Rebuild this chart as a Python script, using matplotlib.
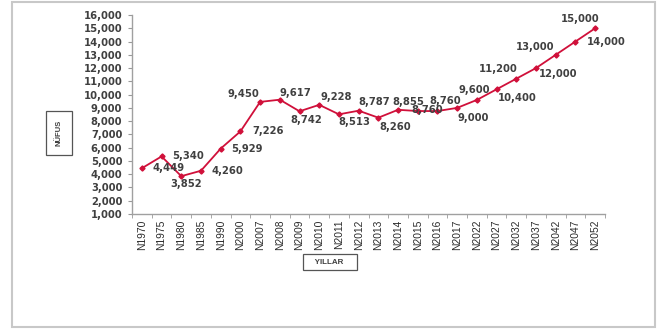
import numpy as np
import matplotlib.pyplot as plt
from matplotlib.patches import Rectangle

# Veriler (yillar ve nufus)
yillar = ["N1970", "N1975", "N1980", "N1985", "N1990", "N2000", "N2007", "N2008",
          "N2009", "N2010", "N2011", "N2012", "N2013", "N2014", "N2015", "N2016",
          "N2017", "N2022", "N2027", "N2032", "N2037", "N2042", "N2047", "N2052"]
nufus = [4449, 5340, 3852, 4260, 5929, 7226, 9450, 9617,
         8742, 9228, 8513, 8787, 8260, 8855, 8760, 8760,
         9000, 9600, 10400, 11200, 12000, 13000, 14000, 15000]
y_ticks = list(range(1000, 16001, 1000))

# Etiket konumlari (piksel kaydirma, hizalama)
etiket_kaydirma = [(11, 0, "left"), (11, 0, "left"), (5, -8, "center"), (11, 0, "left"),
                   (11, 0, "left"), (12, 0, "left"), (-1, 8, "right"), (0, 7, "left"),
                   (7, -9, "center"), (1, 8, "left"), (-1, -8, "left"), (0, 9, "left"),
                   (1, -9, "left"), (-6, 8, "left"), (9, 1, "center"), (8, 10, "center"),
                   (0, -10, "left"), (13, 10, "right"), (1, -9, "left"), (1, 10, "right"),
                   (3, -6, "left"), (-1, 8, "right"), (11, 0, "left"), (4, 9, "right")]

koyu = "#404040"
kirmizi = "#d0103a"
yazi = ["DejaVu Sans"]
dar_yazi = ["Liberation Sans Narrow", "Liberation Sans", "DejaVu Sans"]

fig = plt.figure(figsize=(6.59, 3.29), dpi=100)
fig.patch.set_facecolor("white")
fig.patches.append(Rectangle((12 / 659, 2 / 329), 643 / 659, 325 / 329,
                             transform=fig.transFigure, fill=False,
                             ec="#c8c8c8", lw=1.5))

ax = fig.add_axes([132 / 659, 1 - 214 / 329, 473 / 659, 199 / 329])
x = np.arange(len(yillar))
ax.plot(x, nufus, color=kirmizi, lw=1.3, marker="D", markersize=2.6, zorder=3)

px = 0.72  # piksel -> punto
for i, (val, (dx, dy, ha)) in enumerate(zip(nufus, etiket_kaydirma)):
    ax.annotate(f"{val:,}", (x[i], val), xytext=(dx * px, dy * px),
                textcoords="offset points", ha=ha, va="center",
                fontsize=7.2, fontweight="bold", color=koyu, family=yazi)

ax.set_xlim(-0.5, len(yillar) - 0.5)
ax.set_ylim(1000, 16000)
ax.set_yticks(y_ticks)
ax.set_yticklabels([f"{v:,}" for v in y_ticks], fontsize=7.2, fontweight="bold",
                   color=koyu, family=yazi)
ax.set_xticks(x)
ax.set_xticklabels(yillar, rotation=90, fontsize=7.4, color="#2a2a2a", family=dar_yazi)
ax.set_xticks(np.arange(-0.5, len(yillar), 1), minor=True)
ax.tick_params(axis="x", which="major", length=0, pad=4)
ax.tick_params(axis="x", which="minor", length=3, color="#999999")
ax.tick_params(axis="y", length=3, color="#999999", pad=4)

for s in ["top", "right"]:
    ax.spines[s].set_visible(False)
for s in ["left", "bottom"]:
    ax.spines[s].set_color("#a0a0a0")
    ax.spines[s].set_linewidth(1.0)

fig.text(59 / 659, 1 - 133 / 329, "NÜFUS", rotation=90, ha="center", va="center",
         fontsize=5.5, fontweight="bold", color=koyu, family=dar_yazi,
         bbox=dict(boxstyle="square,pad=1.2", fc="white", ec="#555555", lw=0.9))
fig.text(330 / 659, 1 - 262 / 329, "   YILLAR    ", ha="center", va="center",
         fontsize=5.8, fontweight="bold", color=koyu, family=dar_yazi,
         bbox=dict(boxstyle="square,pad=0.55", fc="white", ec="#555555", lw=0.9))

fig.savefig("out.png", dpi=100)
